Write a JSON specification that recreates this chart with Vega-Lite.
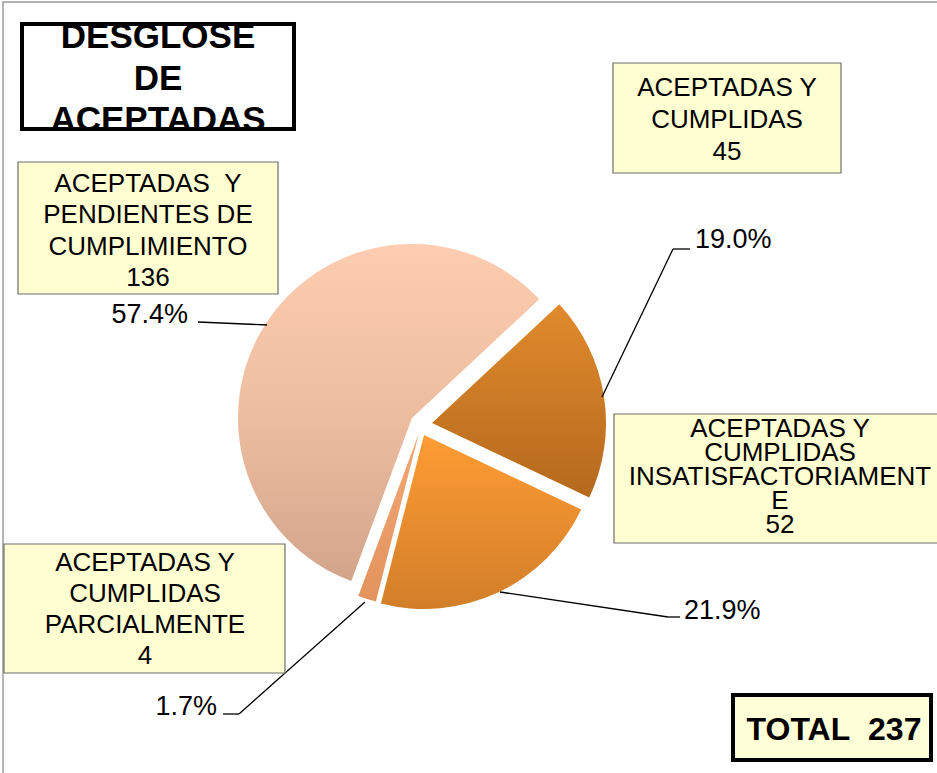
{
  "$schema": "https://vega.github.io/schema/vega-lite/v6.json",
  "width": 937,
  "height": 773,
  "autosize": {"type": "none"},
  "padding": 0,
  "background": "white",
  "config": {"view": {"stroke": null}, "text": {"font": "Liberation Sans"}},
  "data": {
    "values": [
      {"orden": 1, "categoria": "ACEPTADAS Y CUMPLIDAS", "etiqueta": "ACEPTADAS Y|CUMPLIDAS", "valor": 45},
      {"orden": 2, "categoria": "ACEPTADAS Y CUMPLIDAS INSATISFACTORIAMENTE", "etiqueta": "ACEPTADAS Y|CUMPLIDAS|INSATISFACTORIAMENT|E", "valor": 52},
      {"orden": 3, "categoria": "ACEPTADAS Y CUMPLIDAS PARCIALMENTE", "etiqueta": "ACEPTADAS Y|CUMPLIDAS|PARCIALMENTE", "valor": 4},
      {"orden": 4, "categoria": "ACEPTADAS Y PENDIENTES DE CUMPLIMIENTO", "etiqueta": "ACEPTADAS \u00a0Y|PENDIENTES DE|CUMPLIMIENTO", "valor": 136}
    ]
  },
  "transform": [
    {"window": [{"op": "sum", "field": "valor", "as": "acum"}], "sort": [{"field": "orden", "order": "ascending"}], "frame": [null, 0]},
    {"joinaggregate": [{"op": "sum", "field": "valor", "as": "total"}]},
    {"calculate": "(datum.acum - datum.valor) / datum.total", "as": "f0"},
    {"calculate": "datum.acum / datum.total", "as": "f1"},
    {"calculate": "datum.valor / datum.total", "as": "pct"},
    {"calculate": "datum.etiqueta + '|' + datum.valor", "as": "caja"}
  ],
  "layer": [
    {
      "transform": [{"filter": "datum.orden == 1"}],
      "mark": {"type": "rect", "fill": null, "stroke": "#9C9C9C", "strokeWidth": 1.5},
      "encoding": {
        "x": {"datum": 3, "type": "quantitative", "axis": null, "scale": {"domain": [0, 937], "nice": false, "zero": false}},
        "x2": {"datum": 960},
        "y": {"datum": 2, "type": "quantitative", "axis": null, "scale": {"domain": [0, 773], "nice": false, "zero": false, "reverse": true}},
        "y2": {"datum": 800}
      }
    },
    {
      "transform": [{"filter": "datum.orden == 1"}],
      "mark": {"type": "arc", "outerRadius": 174, "color": {"gradient": "linear", "x1": 0, "y1": 0, "x2": 0, "y2": 1, "stops": [{"offset": 0, "color": "#E08A2C"}, {"offset": 1, "color": "#B5691D"}]}},
      "encoding": {
        "theta": {"field": "f0", "type": "quantitative", "stack": null, "scale": {"domain": [0, 1], "range": [0.8203, 7.1035], "nice": false, "zero": false}},
        "theta2": {"field": "f1"},
        "x": {"datum": 432, "type": "quantitative", "axis": null},
        "y": {"datum": 423, "type": "quantitative", "axis": null}
      }
    },
    {
      "transform": [{"filter": "datum.orden == 2"}],
      "mark": {"type": "arc", "outerRadius": 174, "color": {"gradient": "linear", "x1": 0, "y1": 0, "x2": 0, "y2": 1, "stops": [{"offset": 0, "color": "#FE9C34"}, {"offset": 1, "color": "#D27E29"}]}},
      "encoding": {
        "theta": {"field": "f0", "type": "quantitative", "stack": null},
        "theta2": {"field": "f1"},
        "x": {"datum": 424, "type": "quantitative", "axis": null},
        "y": {"datum": 435, "type": "quantitative", "axis": null}
      }
    },
    {
      "transform": [{"filter": "datum.orden == 3"}],
      "mark": {"type": "arc", "outerRadius": 174, "color": {"gradient": "linear", "x1": 0, "y1": 0, "x2": 0, "y2": 1, "stops": [{"offset": 0, "color": "#F2A874"}, {"offset": 1, "color": "#E2935E"}]}},
      "encoding": {
        "theta": {"field": "f0", "type": "quantitative", "stack": null},
        "theta2": {"field": "f1"},
        "x": {"datum": 419, "type": "quantitative", "axis": null},
        "y": {"datum": 433, "type": "quantitative", "axis": null}
      }
    },
    {
      "transform": [{"filter": "datum.orden == 4"}],
      "mark": {"type": "arc", "outerRadius": 174, "color": {"gradient": "linear", "x1": 0, "y1": 0, "x2": 0, "y2": 1, "stops": [{"offset": 0, "color": "#FECDB1"}, {"offset": 0.5, "color": "#EDBDA0"}, {"offset": 1, "color": "#D2A58B"}]}},
      "encoding": {
        "theta": {"field": "f0", "type": "quantitative", "stack": null},
        "theta2": {"field": "f1"},
        "x": {"datum": 412, "type": "quantitative", "axis": null},
        "y": {"datum": 418, "type": "quantitative", "axis": null}
      }
    },
    {
      "transform": [{"filter": "datum.orden == 1"}],
      "layer": [
        {"mark": {"type": "rule", "color": "black", "strokeWidth": 1.3}, "encoding": {"x": {"datum": 602, "type": "quantitative", "axis": null}, "y": {"datum": 397, "type": "quantitative", "axis": null}, "x2": {"datum": 673}, "y2": {"datum": 249}}},
        {"mark": {"type": "rule", "color": "black", "strokeWidth": 1.3}, "encoding": {"x": {"datum": 673, "type": "quantitative", "axis": null}, "y": {"datum": 249, "type": "quantitative", "axis": null}, "x2": {"datum": 690}, "y2": {"datum": 249}}},
        {"mark": {"type": "rule", "color": "black", "strokeWidth": 1.3}, "encoding": {"x": {"datum": 500, "type": "quantitative", "axis": null}, "y": {"datum": 592, "type": "quantitative", "axis": null}, "x2": {"datum": 668}, "y2": {"datum": 617}}},
        {"mark": {"type": "rule", "color": "black", "strokeWidth": 1.3}, "encoding": {"x": {"datum": 668, "type": "quantitative", "axis": null}, "y": {"datum": 617, "type": "quantitative", "axis": null}, "x2": {"datum": 680}, "y2": {"datum": 617}}},
        {"mark": {"type": "rule", "color": "black", "strokeWidth": 1.3}, "encoding": {"x": {"datum": 365, "type": "quantitative", "axis": null}, "y": {"datum": 602, "type": "quantitative", "axis": null}, "x2": {"datum": 239}, "y2": {"datum": 714}}},
        {"mark": {"type": "rule", "color": "black", "strokeWidth": 1.3}, "encoding": {"x": {"datum": 239, "type": "quantitative", "axis": null}, "y": {"datum": 714, "type": "quantitative", "axis": null}, "x2": {"datum": 223}, "y2": {"datum": 714}}},
        {"mark": {"type": "rule", "color": "black", "strokeWidth": 1.3}, "encoding": {"x": {"datum": 198, "type": "quantitative", "axis": null}, "y": {"datum": 322, "type": "quantitative", "axis": null}, "x2": {"datum": 267}, "y2": {"datum": 325}}}
      ]
    },
    {
      "transform": [{"filter": "datum.orden == 1"}],
      "mark": {"type": "text", "fontSize": 27, "align": "left", "baseline": "alphabetic", "color": "black"},
      "encoding": {"x": {"datum": 695, "type": "quantitative", "axis": null}, "y": {"datum": 248, "type": "quantitative", "axis": null}, "text": {"field": "pct", "type": "quantitative", "format": ".1%"}}
    },
    {
      "transform": [{"filter": "datum.orden == 2"}],
      "mark": {"type": "text", "fontSize": 27, "align": "left", "baseline": "alphabetic", "color": "black"},
      "encoding": {"x": {"datum": 684, "type": "quantitative", "axis": null}, "y": {"datum": 619, "type": "quantitative", "axis": null}, "text": {"field": "pct", "type": "quantitative", "format": ".1%"}}
    },
    {
      "transform": [{"filter": "datum.orden == 3"}],
      "mark": {"type": "text", "fontSize": 27, "align": "right", "baseline": "alphabetic", "color": "black"},
      "encoding": {"x": {"datum": 217, "type": "quantitative", "axis": null}, "y": {"datum": 715, "type": "quantitative", "axis": null}, "text": {"field": "pct", "type": "quantitative", "format": ".1%"}}
    },
    {
      "transform": [{"filter": "datum.orden == 4"}],
      "mark": {"type": "text", "fontSize": 27, "align": "right", "baseline": "alphabetic", "color": "black"},
      "encoding": {"x": {"datum": 188, "type": "quantitative", "axis": null}, "y": {"datum": 323, "type": "quantitative", "axis": null}, "text": {"field": "pct", "type": "quantitative", "format": ".1%"}}
    },
    {
      "transform": [{"filter": "datum.orden == 1"}],
      "layer": [
        {"mark": {"type": "rect", "fill": "#FFFFD2", "stroke": "#6E6E6E", "strokeWidth": 1.2}, "encoding": {"x": {"datum": 613, "type": "quantitative", "axis": null}, "x2": {"datum": 841}, "y": {"datum": 63, "type": "quantitative", "axis": null}, "y2": {"datum": 173}}},
        {"mark": {"type": "text", "fontSize": 26, "align": "center", "baseline": "alphabetic", "lineBreak": "|", "lineHeight": 32, "color": "black"}, "encoding": {"x": {"datum": 727, "type": "quantitative", "axis": null}, "y": {"datum": 96, "type": "quantitative", "axis": null}, "text": {"field": "caja"}}}
      ]
    },
    {
      "transform": [{"filter": "datum.orden == 2"}],
      "layer": [
        {"mark": {"type": "rect", "fill": "#FFFFD2", "stroke": "#6E6E6E", "strokeWidth": 1.2}, "encoding": {"x": {"datum": 614, "type": "quantitative", "axis": null}, "x2": {"datum": 946}, "y": {"datum": 414, "type": "quantitative", "axis": null}, "y2": {"datum": 543}}},
        {"mark": {"type": "text", "fontSize": 26, "align": "center", "baseline": "alphabetic", "lineBreak": "|", "lineHeight": 24, "color": "black"}, "encoding": {"x": {"datum": 780, "type": "quantitative", "axis": null}, "y": {"datum": 437, "type": "quantitative", "axis": null}, "text": {"field": "caja"}}}
      ]
    },
    {
      "transform": [{"filter": "datum.orden == 3"}],
      "layer": [
        {"mark": {"type": "rect", "fill": "#FFFFD2", "stroke": "#6E6E6E", "strokeWidth": 1.2}, "encoding": {"x": {"datum": 4, "type": "quantitative", "axis": null}, "x2": {"datum": 285}, "y": {"datum": 544, "type": "quantitative", "axis": null}, "y2": {"datum": 673}}},
        {"mark": {"type": "text", "fontSize": 26, "align": "center", "baseline": "alphabetic", "lineBreak": "|", "lineHeight": 31, "color": "black"}, "encoding": {"x": {"datum": 145, "type": "quantitative", "axis": null}, "y": {"datum": 571, "type": "quantitative", "axis": null}, "text": {"field": "caja"}}}
      ]
    },
    {
      "transform": [{"filter": "datum.orden == 4"}],
      "layer": [
        {"mark": {"type": "rect", "fill": "#FFFFD2", "stroke": "#6E6E6E", "strokeWidth": 1.2}, "encoding": {"x": {"datum": 18, "type": "quantitative", "axis": null}, "x2": {"datum": 278}, "y": {"datum": 162, "type": "quantitative", "axis": null}, "y2": {"datum": 294}}},
        {"mark": {"type": "text", "fontSize": 26, "align": "center", "baseline": "alphabetic", "lineBreak": "|", "lineHeight": 31.3, "color": "black"}, "encoding": {"x": {"datum": 148, "type": "quantitative", "axis": null}, "y": {"datum": 192, "type": "quantitative", "axis": null}, "text": {"field": "caja"}}}
      ]
    },
    {
      "transform": [{"filter": "datum.orden == 1"}],
      "layer": [
        {"mark": {"type": "text", "text": ["DESGLOSE", "DE", "ACEPTADAS"], "fontSize": 35, "fontWeight": "bold", "align": "center", "baseline": "alphabetic", "lineHeight": 41.5, "color": "black"}, "encoding": {"x": {"datum": 158, "type": "quantitative", "axis": null}, "y": {"datum": 48, "type": "quantitative", "axis": null}}},
        {"mark": {"type": "rect", "fill": null, "stroke": "black", "strokeWidth": 4}, "encoding": {"x": {"datum": 22, "type": "quantitative", "axis": null}, "x2": {"datum": 294}, "y": {"datum": 24, "type": "quantitative", "axis": null}, "y2": {"datum": 129}}}
      ]
    },
    {
      "transform": [
        {"aggregate": [{"op": "sum", "field": "valor", "as": "suma"}]},
        {"calculate": "'TOTAL\u00a0 ' + datum.suma", "as": "rotulo"}
      ],
      "layer": [
        {"mark": {"type": "rect", "fill": "#FFFFD7", "stroke": "black", "strokeWidth": 4}, "encoding": {"x": {"datum": 733, "type": "quantitative", "axis": null}, "x2": {"datum": 931}, "y": {"datum": 695, "type": "quantitative", "axis": null}, "y2": {"datum": 760}}},
        {"mark": {"type": "text", "fontSize": 32, "fontWeight": "bold", "align": "center", "baseline": "alphabetic", "color": "black"}, "encoding": {"x": {"datum": 834, "type": "quantitative", "axis": null}, "y": {"datum": 740, "type": "quantitative", "axis": null}, "text": {"field": "rotulo"}}}
      ]
    }
  ]
}
